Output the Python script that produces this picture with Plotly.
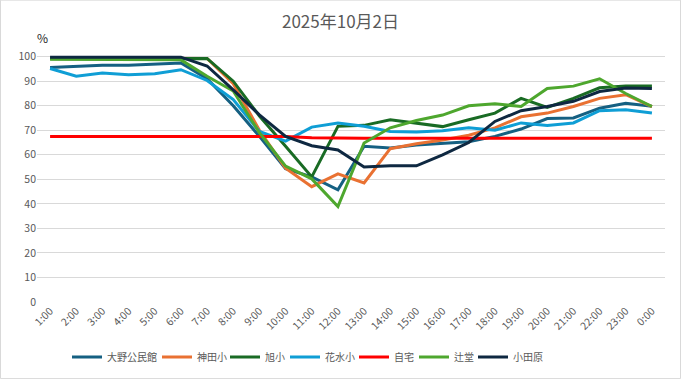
import plotly.graph_objects as go

hours = ["1:00", "2:00", "3:00", "4:00", "5:00", "6:00", "7:00", "8:00", "9:00", "10:00",
         "11:00", "12:00", "13:00", "14:00", "15:00", "16:00", "17:00", "18:00", "19:00",
         "20:00", "21:00", "22:00", "23:00", "0:00"]

ono = [95.6, 96, 96.5, 96.5, 97.1, 97.4, 91, 80, 67.5, 54.3, 51, 45.7, 63.5, 62.8, 64, 64.8,
       65.3, 67.5, 70.5, 74.8, 75, 79, 81, 79.8]
kanda = [99.5, 99.5, 99.5, 99.5, 99.5, 99.5, 99.3, 89, 70, 54.5, 47, 52.2, 48.5, 62.5, 64.5,
         66, 68, 71, 75.5, 77, 79.7, 83, 84.5, 79.6]
asahi = [99.2, 99.2, 99.2, 99.2, 99.2, 99.2, 99.3, 90, 75.8, 63.5, 51, 71.6, 72, 74.3, 72.8,
         71.5, 74.3, 77, 83, 79.3, 83, 87.3, 88, 88]
hanamizu = [95.2, 92, 93.3, 92.6, 93, 94.7, 90.3, 82.5, 69.5, 65.6, 71.3, 73, 71.6, 69.5, 69.3,
            69.8, 71, 70, 73, 72, 73, 78, 78.4, 77]
jitaku = [67.5] * 10 + [67.0] + [66.8] * 13
tsujido = [99, 99, 99, 99, 99, 98.7, 92, 86, 69, 55.4, 50.2, 38.9, 64.8, 71, 74, 76.2, 80, 80.8,
           79.7, 87, 88, 91, 85, 79.7]
odawara = [99.8, 99.8, 99.8, 99.8, 99.8, 99.8, 96.2, 86.5, 76.3, 67.5, 63.7, 62, 55, 55.5, 55.5,
           60, 65, 73.6, 78, 79.7, 81.8, 85.8, 87.2, 87]

names = ["大野公民館", "神田小", "旭小", "花水小", "自宅", "辻堂", "小田原"]
values = [ono, kanda, asahi, hanamizu, jitaku, tsujido, odawara]
colors = ["#156082", "#E97132", "#196B24", "#0F9ED5", "#FF0000", "#4EA72E", "#0E2841"]
legend_widths = [45, 23, 15, 24, 15, 14, 32]

FONT = "Noto Sans CJK JP, sans-serif"

fig = go.Figure()
for name, vals, color, lw in zip(names, values, colors, legend_widths):
    fig.add_trace(go.Scatter(x=hours, y=vals, name=name, mode="lines", legendwidth=lw,
                             line=dict(color=color, width=3)))

W, H = 681, 379
L, R, T, B = 37, 16, 53.3, 77

fig.update_layout(
    width=W, height=H,
    margin=dict(l=L, r=R, t=T, b=B, autoexpand=False),
    paper_bgcolor="white", plot_bgcolor="white",
    font=dict(family=FONT, color="#595959", size=11),
    title=dict(text="2025年10月2日", x=0.5, xanchor="center", y=1 - 22 / H, yanchor="middle",
               font=dict(size=17, color="#595959", family=FONT)),
    showlegend=True,
    legend=dict(orientation="h", x=(67 - L) / (W - L - R), xanchor="left", yref="container",
                y=1 - 357 / H, yanchor="middle",
                font=dict(size=10, color="#595959", family=FONT), itemwidth=30,
                tracegroupgap=0),
    xaxis=dict(type="category", range=[-0.5, 23.5], tickangle=-45, showgrid=False,
               showline=False, ticks="", automargin=False,
               tickfont=dict(size=10.5, color="#595959")),
    yaxis=dict(range=[0, 101.5], tickvals=list(range(0, 101, 10)), showgrid=True,
               gridcolor="#D9D9D9", gridwidth=1, zeroline=False, showline=False,
               automargin=False, tickfont=dict(size=10.5, color="#595959"), ticks=""),
)

fig.add_annotation(text="%", xref="paper", yref="paper", x=(42 - L) / (W - L - R),
                   y=(302 - 38) / (302 - T), xanchor="center", yanchor="middle",
                   showarrow=False, font=dict(size=12, color="#262626", family=FONT))

pw = W - L - R
ph = 302 - T
fig.add_shape(type="rect", xref="paper", yref="paper",
              x0=(0.5 - L) / pw, x1=(W - 0.5 - L) / pw,
              y0=(302 - (H - 0.5)) / ph, y1=(302 - 0.5) / ph,
              line=dict(color="#D9D9D9", width=1), fillcolor="rgba(0,0,0,0)", layer="below")

fig.write_html("out.html", config={"displayModeBar": False},
               post_script="document.body.style.margin='0';document.body.style.overflow='hidden';")
